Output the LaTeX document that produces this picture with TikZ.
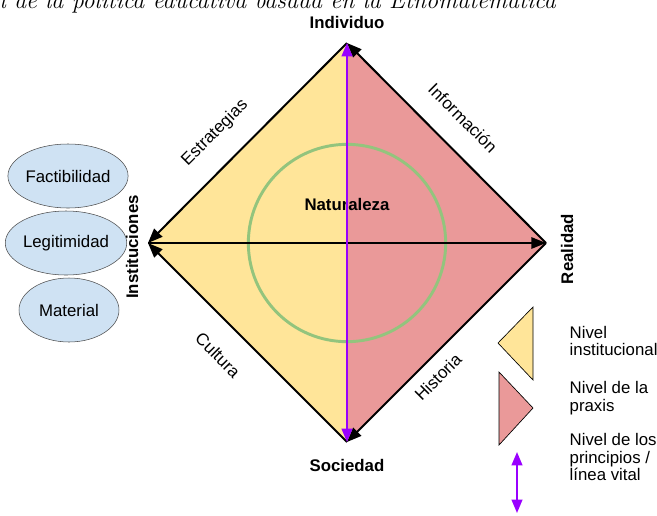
\documentclass[tikz,border=0pt]{standalone}
\usepackage{fontspec}
\setsansfont{Liberation Sans}
\usepackage{xcolor}
\usetikzlibrary{arrows.meta,positioning,shapes.geometric}

\definecolor{instyellow}{HTML}{FFE599}
\definecolor{praxispink}{HTML}{EA9999}
\definecolor{natgreen}{HTML}{93C47D}
\definecolor{vitalpurple}{HTML}{9900FF}
\definecolor{factorblue}{HTML}{CFE2F3}

\begin{document}
\begin{tikzpicture}[x=0.75pt,y=-0.75pt,
    axis/.style={line width=1.5pt, -{Triangle[length=11pt,width=8.5pt]}},
    vital/.style={vitalpurple, line width=1.5pt, {Triangle[length=10pt,width=8pt]}-{Triangle[length=10pt,width=8pt]}},
    corner/.style={font=\sffamily\bfseries\fontsize{12.6}{14}\selectfont},
    edgelabel/.style={font=\sffamily\fontsize{12.8}{14}\selectfont},
    factor/.style={ellipse, draw=black!70, fill=factorblue, minimum width=75pt, minimum height=48pt, inner sep=0pt, font=\sffamily\fontsize{12.6}{14}\selectfont},
    legendtext/.style={anchor=west, align=left, font=\sffamily\fontsize{12.6}{13}\selectfont}]
    \useasboundingbox (0,0) rectangle (657,515);
    \clip (0,0) rectangle (657,515);

    % Title (cut at the top)
    \node[anchor=base east, inner sep=0pt, font=\itshape\fontsize{18}{20}\selectfont] (title) at (556,8) {l de la política educativa basada en la Etnomatemática};

    % Corners of the diamond
    \coordinate (ind) at (347,43);
    \coordinate (inst) at (148,243);
    \coordinate (real) at (546,243);
    \coordinate (soc) at (347,442);
    \coordinate (mid) at (347,243);

    % Two halves
    \fill[instyellow] (ind) -- (inst) -- (soc) -- cycle;
    \fill[praxispink] (ind) -- (real) -- (soc) -- cycle;

    % Circle
    \node[circle, draw=natgreen, line width=2.2pt, minimum size=148pt, inner sep=0pt] (circ) at (mid) {};
    \node[corner] (nat) at (347,204) {Naturaleza};

    % Arrows
    \draw[axis] (ind) -- (inst);
    \draw[axis] (soc) -- (inst);
    \draw[axis] (inst) -- (real);
    \draw[axis] (real) -- (ind);
    \draw[axis] (real) -- (soc);
    \draw[vital] (ind) -- (soc);

    % Corner labels
    \node[corner] (lind) at (347,22) {Individuo};
    \node[corner] (lsoc) at (347,465) {Sociedad};
    \node[corner, rotate=90] (linst) at (132,247) {Instituciones};
    \node[corner, rotate=90] (lreal) at (567,249) {Realidad};

    % Edge labels
    \node[edgelabel, rotate=45] (estr) at (215,133) {Estrategias};
    \node[edgelabel, rotate=-45] (info) at (463,118) {Información};
    \node[edgelabel, rotate=-45] (cult) at (218,355) {Cultura};
    \node[edgelabel, rotate=45] (hist) at (438,377) {Historia};

    % Factors
    \node[factor] (fact) at (68,176) {Factibilidad};
    \node[factor] (legi) at (66,243) {Legitimidad};
    \node[factor] (mate) at (69,310) {Material};

    % Legend
    \draw[fill=instyellow, line width=0.5pt] (533,307) -- (498,343) -- (533,380) -- cycle;
    \draw[fill=praxispink, line width=0.5pt] (499,372) -- (533,408) -- (499,445) -- cycle;
    \coordinate (vtop) at (517,452);
    \coordinate (vbot) at (517,513);
    \draw[vital] (vtop) -- (vbot);
    \node[legendtext] (linst2) at (565,341) {Nivel\\institucional};
    \node[legendtext] (lprax) at (565,398) {Nivel de la\\praxis};
    \node[legendtext] (lvital) at (565,457) {Nivel de los\\principios /\\línea vital};
\end{tikzpicture}
\end{document}
